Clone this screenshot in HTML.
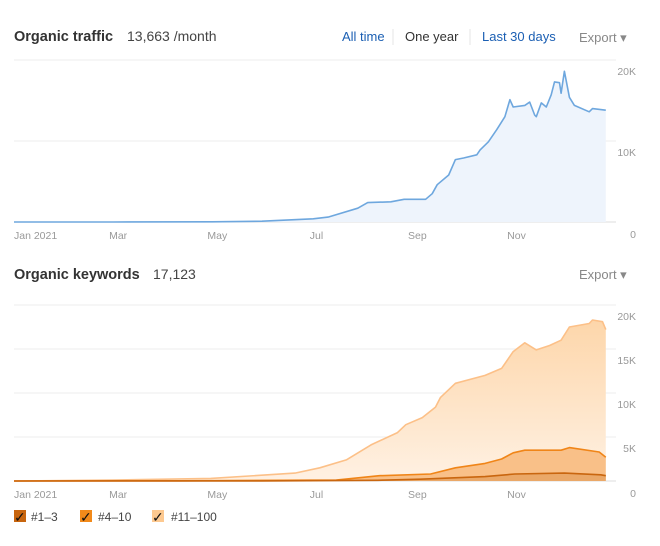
<!DOCTYPE html>
<html><head><meta charset="utf-8"><style>
body{margin:0;background:#fff;font-family:"Liberation Sans",sans-serif;}
svg text{font-family:"Liberation Sans",sans-serif;}
</style></head><body>
<svg width="660" height="541" viewBox="0 0 660 541">
<g>
<text x="14" y="41" font-size="14.5" font-weight="bold" fill="#333">Organic traffic</text>
<text x="127" y="41" font-size="14" fill="#444">13,663 /month</text>
<text x="342" y="41" font-size="13" fill="#1b5fb3">All time</text>
<line x1="393" y1="29" x2="393" y2="45" stroke="#e5e5e5"/>
<text x="405" y="41" font-size="13" fill="#333">One year</text>
<line x1="470" y1="29" x2="470" y2="45" stroke="#e5e5e5"/>
<text x="482" y="41" font-size="13" fill="#1b5fb3">Last 30 days</text>
<text x="579" y="42" font-size="13" fill="#888">Export ▾</text>
</g>
<g id="traffic"></g>
<g>
<text x="14" y="279" font-size="14.5" font-weight="bold" fill="#333">Organic keywords</text>
<text x="153" y="279" font-size="14" fill="#444">17,123</text>
<text x="579" y="279" font-size="13" fill="#888">Export ▾</text>
</g>
<g id="keywords"></g>
<g>
<g><rect x="14" y="510" width="12" height="12" fill="#c8650e"/><text x="14" y="522" font-size="14" fill="#111">✓</text><text x="31" y="521" font-size="12" fill="#444">#1–3</text></g>
<g><rect x="80" y="510" width="12" height="12" fill="#f28a1a"/><text x="80" y="522" font-size="14" fill="#111">✓</text><text x="98" y="521" font-size="12" fill="#444">#4–10</text></g>
<g><rect x="152" y="510" width="12" height="12" fill="#fdc990"/><text x="152" y="522" font-size="14" fill="#111">✓</text><text x="171" y="521" font-size="12" fill="#444">#11–100</text></g>
</g>
</svg>
<script>
const monthLabels=["Jan 2021","Mar","May","Jul","Sep","Nov"];
const monthDays=[0,63,123,183,244,304];
const trafficTicks=[0,10000,20000];
const trafficTickLabels=["0","10K","20K"];
const trafficDays=[0,60,120,150,181,190,208,214,228,236,249,253,256,263,267,272,280,282,287,292,297,300,302,309,312,315,316,319,322,325,327,330,331,333,336,339,348,350,358];
const trafficValues=[0,0,20,100,400,600,1700,2400,2500,2800,2800,3500,4600,5800,7700,7900,8300,8900,9900,11400,13000,15100,14200,14400,14800,13200,13000,14700,14200,15700,17300,17200,15900,18600,15400,14400,13600,14000,13800];
const kwTicks=[0,5000,10000,15000,20000];
const kwTickLabels=["0","5K","10K","15K","20K"];
const kwTopDays=[0,60,119,170,185,201,216,232,237,247,255,258,267,285,295,302,309,316,324,331,336,348,350,356,358];
const kwTopValues=[0,100,300,900,1500,2400,4100,5500,6400,7200,8400,9500,11100,12000,12800,14700,15700,14900,15400,16000,17500,17900,18300,18100,17200];
const kwMidDays=[0,100,195,221,252,267,285,295,302,309,331,336,354,358];
const kwMidValues=[0,20,100,600,800,1500,2000,2500,3200,3500,3500,3800,3300,2700];
const kwLowDays=[0,150,220,246,285,303,333,355,358];
const kwLowValues=[0,10,80,200,500,800,900,700,600];

const NS="http://www.w3.org/2000/svg";
function mk(t,a,p){const e=document.createElementNS(NS,t);for(const k in a)e.setAttribute(k,a[k]);p.appendChild(e);return e;}
const X0=14,DX=1.653;
function xs(d){return X0+d*DX;}
function sortPts(ds,vs){return ds.map((d,i)=>[d,vs[i]]).sort((a,b)=>a[0]-b[0]);}

function axes(g,base,top,max,ticks,labels){
  ticks.forEach((t,i)=>{
    const y=base-(t/max)*(base-top);
    const l=mk('line',{x1:14,x2:616,y1:y,y2:y,stroke:i==0?'#ddd':'#eee'},g);
    
    const tx=mk('text',{x:636,y:i==0?base+16:y+15,'font-size':10.5,fill:'#999','text-anchor':'end'},g);
    tx.textContent=labels[i];
    
  });
  monthLabels.forEach((m,i)=>{
    const tx=mk('text',{x:xs(monthDays[i]),y:base+17,'font-size':10.5,fill:'#999','text-anchor':i==0?'start':'middle'},g);
    tx.textContent=m;
    
  });
}
function area(g,pts,ysc,base,fill,stroke,name){
  const p=pts.map(([d,v])=>xs(d).toFixed(1)+','+ysc(v).toFixed(1));
  const a=mk('path',{d:'M'+xs(pts[0][0])+','+base+' L'+p.join(' L')+' L'+xs(pts[pts.length-1][0])+','+base+'Z',fill:fill},g);
  
  const l=mk('path',{d:'M'+p.join(' L'),fill:'none',stroke:stroke,'stroke-width':1.6,'stroke-linejoin':'round'},g);
  
}
const tg=document.getElementById('traffic');
const tBase=222,tTop=60,tMax=20000;
axes(tg,tBase,tTop,tMax,trafficTicks,trafficTickLabels);
area(tg,sortPts(trafficDays,trafficValues),v=>tBase-v/tMax*(tBase-tTop),tBase,'#eef4fc','#6ea7de','traffic');
const kg=document.getElementById('keywords');
const kBase=481,kTop=305,kMax=20000;
axes(kg,kBase,kTop,kMax,kwTicks,kwTickLabels);
const defs=mk('defs',{},kg);
const gr=mk('linearGradient',{id:'kg1',x1:0,y1:0,x2:0,y2:1},defs);
mk('stop',{offset:'0','stop-color':'#fdd6aa'},gr);mk('stop',{offset:'1','stop-color':'#fff1e3'},gr);
const ky=v=>kBase-v/kMax*(kBase-kTop);
area(kg,sortPts(kwTopDays,kwTopValues),ky,kBase,'url(#kg1)','#fcc088','keywords-11-100');
area(kg,sortPts(kwMidDays,kwMidValues),ky,kBase,'#f9c088','#f08518','keywords-4-10');
area(kg,sortPts(kwLowDays,kwLowValues),ky,kBase,'#eaa868','#c9660f','keywords-1-3');
</script>
</body></html>
